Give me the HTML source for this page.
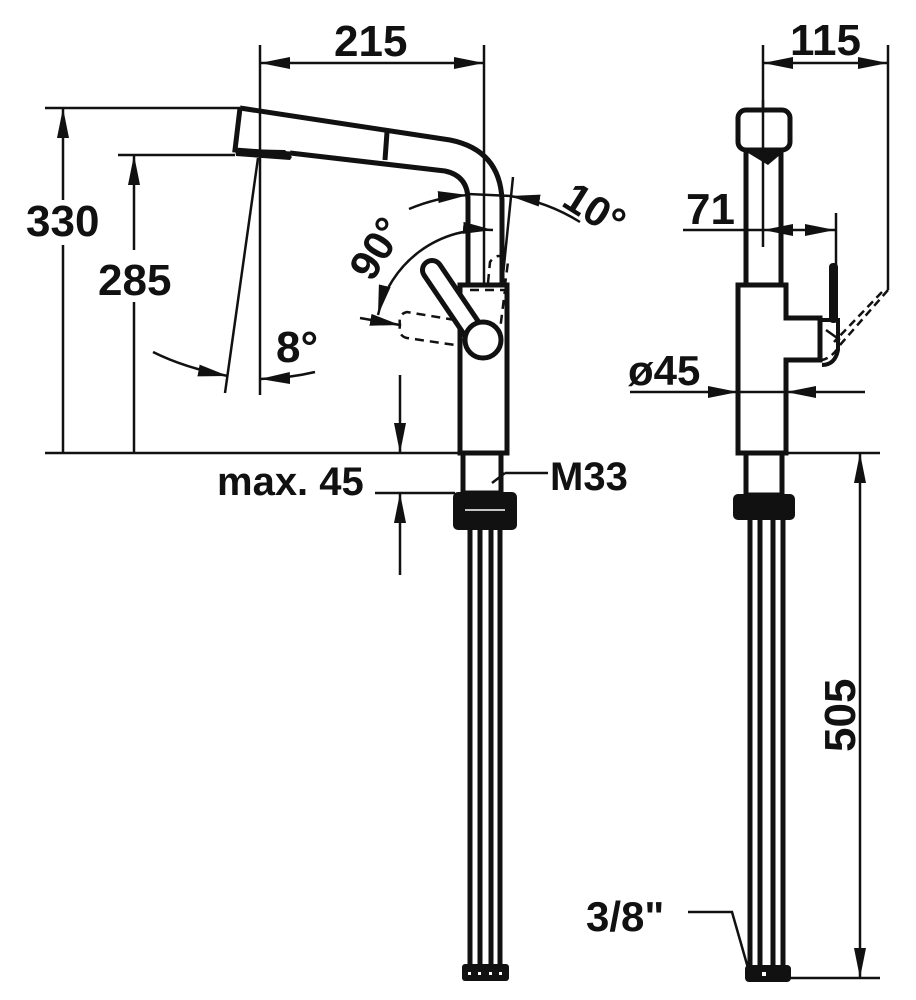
<!DOCTYPE html>
<html><head><meta charset="utf-8"><style>
html,body{margin:0;padding:0;background:#fff}
svg{display:block}
text{font-family:"Liberation Sans Narrow","Liberation Sans",sans-serif;font-weight:bold;fill:#111}
</style></head><body>
<svg width="916" height="1000" viewBox="0 0 916 1000" xmlns="http://www.w3.org/2000/svg">
<defs>
<marker id="a" viewBox="0 0 30 12" refX="30" refY="6" markerWidth="30" markerHeight="12" markerUnits="userSpaceOnUse" orient="auto-start-reverse"><path d="M0,0 L30,6 L0,12 Z" fill="#111"/></marker>
</defs>
<g stroke="#111" fill="none" stroke-width="2.5">
<line x1="260" y1="45" x2="260" y2="395"/>
<line x1="484" y1="45" x2="484" y2="285"/>
<line x1="260" y1="63" x2="484" y2="63" marker-start="url(#a)" marker-end="url(#a)"/>
<line x1="45" y1="108" x2="240" y2="108"/>
<line x1="118" y1="155" x2="235" y2="155"/>
<line x1="45" y1="453" x2="460" y2="453"/>
<line x1="63" y1="200" x2="63" y2="108" marker-end="url(#a)"/>
<line x1="63" y1="245" x2="63" y2="453"/>
<line x1="134" y1="250" x2="134" y2="155" marker-end="url(#a)"/>
<line x1="134" y1="302" x2="134" y2="453"/>
<line x1="400" y1="375" x2="400" y2="453" marker-end="url(#a)"/>
<line x1="375" y1="493" x2="455" y2="493"/>
<line x1="400" y1="575" x2="400" y2="493" marker-end="url(#a)"/>
<line x1="258" y1="158" x2="225" y2="393"/>
<path d="M153,352 Q185,368 228,376" marker-end="url(#a)"/>
<path d="M315,372 Q290,378 260,379" marker-end="url(#a)"/>
<line x1="513" y1="177" x2="502" y2="285"/>
<path d="M409,209 A186,186 0 0 1 468,195" marker-end="url(#a)"/>
<path d="M580,222 A186,186 0 0 0 510,196" marker-end="url(#a)"/>
<line x1="468" y1="194" x2="512" y2="196"/>
<path d="M493,230 A110,110 0 0 0 378,315" marker-start="url(#a)" marker-end="url(#a)"/>
<line x1="360" y1="318" x2="400" y2="325" marker-end="url(#a)"/>
<line x1="548" y1="473" x2="505" y2="473"/>
<line x1="505" y1="473" x2="492" y2="483"/>
</g>
<g stroke="#111" fill="none" stroke-width="5">
<path d="M240,108 L450,140 Q500,150 502,200 L502,285"/>
<path d="M290,153 L445,171 Q468,176 468,200 L468,285"/>
<path d="M240,108 L235,150 L290,154"/>
<line x1="387" y1="132" x2="385" y2="160"/>
<rect x="460" y="285" width="47" height="168"/>
<rect x="463" y="453" width="38" height="40"/>
<line x1="470" y1="493" x2="470" y2="965"/><line x1="480" y1="493" x2="480" y2="965"/>
<line x1="491" y1="493" x2="491" y2="965"/><line x1="500" y1="493" x2="500" y2="965"/>
<path d="M432,270 L474,332" stroke-width="24" stroke-linecap="round" stroke="#111"/>
</g>
<path d="M432,270 L474,332" stroke-width="14" stroke-linecap="round" stroke="#fff"/>
<path d="M235,149 L285,150 L292,157 L290,160 L236,156 Z" fill="#111"/>
<circle cx="483" cy="340" r="18" fill="#fff" stroke="#111" stroke-width="5"/>
<g stroke="#111" fill="none" stroke-width="2.5" stroke-dasharray="9,6">
<path d="M455,320 L407,312 Q398,314 400,325 Q398,336 407,338 L455,345"/>
<path d="M488,283 L490,262 Q498,250 508,262 L505,285"/>
<path d="M470,290 L505,290 L500,330"/>
</g>
<rect x="453" y="492" width="64" height="38" rx="5" fill="#111"/>
<line x1="465" y1="510" x2="505" y2="510" stroke="#fff" stroke-width="1.5"/>
<rect x="462" y="964" width="47" height="17" rx="3" fill="#111"/>
<g fill="#fff"><rect x="468" y="972" width="3" height="3"/><rect x="478" y="972" width="3" height="3"/><rect x="489" y="972" width="3" height="3"/><rect x="499" y="972" width="3" height="3"/></g>

<g stroke="#111" fill="none" stroke-width="2.5">
<line x1="763" y1="45" x2="763" y2="108"/>
<line x1="888" y1="45" x2="888" y2="290"/>
<line x1="763" y1="63" x2="888" y2="63" marker-start="url(#a)" marker-end="url(#a)"/>
<line x1="683" y1="230" x2="763" y2="230"/>
<line x1="763" y1="230" x2="835" y2="230" marker-start="url(#a)" marker-end="url(#a)"/>
<line x1="836" y1="213" x2="836" y2="265"/>
<line x1="763" y1="100" x2="763" y2="247"/>
<line x1="630" y1="392" x2="738" y2="392" marker-end="url(#a)"/>
<line x1="865" y1="392" x2="786" y2="392" marker-end="url(#a)"/>
<line x1="740" y1="392" x2="786" y2="392"/>
<line x1="786" y1="453" x2="880" y2="453"/>
<line x1="780" y1="978" x2="880" y2="978"/>
<line x1="860" y1="453" x2="860" y2="978" marker-start="url(#a)" marker-end="url(#a)"/>
<path d="M688,912 L732,912 L748,968"/>
<path d="M826,330 L840,340"/>
</g>
<g stroke="#111" fill="none" stroke-width="2.5" stroke-dasharray="8,5">
<path d="M888,290 L840,345 Q832,358 822,360"/>
<path d="M882,292 L834,342"/>
</g>
<g stroke="#111" fill="none" stroke-width="5">
<rect x="738" y="110" width="52" height="40" rx="8"/>
<line x1="746" y1="150" x2="746" y2="285"/><line x1="781" y1="150" x2="781" y2="285"/>
<path d="M738,285 L786,285 L786,318 L820,318 L820,360 L786,360 L786,453 L738,453 Z"/>
<rect x="746" y="453" width="36" height="42"/>
<line x1="750" y1="520" x2="750" y2="965"/><line x1="760" y1="520" x2="760" y2="965"/>
<line x1="773" y1="520" x2="773" y2="965"/><line x1="783" y1="520" x2="783" y2="965"/>
</g>
<path d="M740,148 L788,148 L768,165 Z" fill="#111"/>
<rect x="829" y="263" width="9" height="60" rx="4" fill="#111"/>
<path d="M820,320 L838,320 L838,350 Q835,365 822,365" stroke="#111" stroke-width="4" fill="none"/>
<rect x="733" y="494" width="62" height="26" rx="5" fill="#111"/>
<rect x="745" y="965" width="46" height="17" rx="4" fill="#111"/>
<rect x="762" y="972" width="4" height="4" fill="#fff"/>

<text x="334" y="56" font-size="44">215</text>
<text x="790" y="55" font-size="44">115</text>
<text x="26" y="236" font-size="44">330</text>
<text x="98" y="295" font-size="44">285</text>
<text x="276" y="362" font-size="44">8°</text>
<text x="217" y="495" font-size="40">max. 45</text>
<text x="550" y="490" font-size="40">M33</text>
<text transform="translate(372,283) rotate(-58)" font-size="42">90°</text>
<text transform="translate(560,205) rotate(32)" font-size="42">10°</text>
<text x="686" y="224" font-size="44">71</text>
<text x="628" y="385" font-size="42">ø45</text>
<text transform="translate(855,752) rotate(-90)" font-size="44">505</text>
<text x="586" y="931" font-size="42">3/8"</text>
</svg>
</body></html>
